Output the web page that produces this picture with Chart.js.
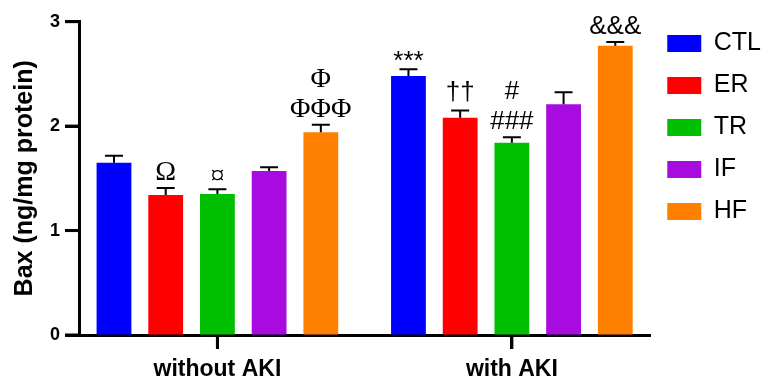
<!DOCTYPE html>
<html>
<head>
<meta charset="utf-8">
<script src="https://cdn.jsdelivr.net/npm/chart.js@4/dist/chart.umd.min.js"></script>
<style>
html,body{margin:0;padding:0;background:#fff;}
canvas{display:block;}
</style>
</head>
<body>
<canvas id="c" width="771" height="378"></canvas>
<script>
// ---- data ----
const categories = ['without AKI', 'with AKI'];
const groups = ['CTL', 'ER', 'TR', 'IF', 'HF'];
const ctlValues = [1.65, 2.48];
const erValues  = [1.34, 2.08];
const trValues  = [1.35, 1.84];
const ifValues  = [1.57, 2.21];
const hfValues  = [1.94, 2.77];
const ctlErr = [0.065, 0.064];
const erErr  = [0.067, 0.070];
const trErr  = [0.045, 0.054];
const ifErr  = [0.035, 0.115];
const hfErr  = [0.073, 0.035];
const ctlMarks = ['', '***'];
const erMarks  = ['Ω', '††'];
const trMarks  = ['¤', '#\n###'];
const ifMarks  = ['', ''];
const hfMarks  = ['Φ\nΦΦΦ', '&&&'];
const yTicks = [0, 1, 2, 3];

const colors = ['#0000FF', '#FF0000', '#00BE00', '#A80BE0', '#FF8000'];
const seriesValues = [ctlValues, erValues, trValues, ifValues, hfValues];
const seriesErr = [ctlErr, erErr, trErr, ifErr, hfErr];
const seriesMarks = [ctlMarks, erMarks, trMarks, ifMarks, hfMarks];

const datasets = groups.map((g, i) => ({
  label: g,
  data: seriesValues[i].map((v, j) => ({x: j, y: v})),
  err: seriesErr[i],
  marks: seriesMarks[i],
  backgroundColor: colors[i],
  borderWidth: 0,
  categoryPercentage: 0.878,
  barPercentage: 0.673
}));

const TICK_LEN = 14;

const errorBarsAndMarks = {
  id: 'errorBarsAndMarks',
  afterDatasetsDraw(chart) {
    const ctx = chart.ctx;
    const y = chart.scales.y;
    chart.data.datasets.forEach((ds, i) => {
      const meta = chart.getDatasetMeta(i);
      meta.data.forEach((bar, j) => {
        const v = ds.data[j].y;
        const top = y.getPixelForValue(v + ds.err[j]);
        ctx.save();
        ctx.strokeStyle = '#000';
        ctx.lineWidth = 2;
        ctx.beginPath();
        ctx.moveTo(bar.x, bar.y);
        ctx.lineTo(bar.x, top);
        ctx.moveTo(bar.x - 9, top);
        ctx.lineTo(bar.x + 9, top);
        ctx.stroke();
        const m = ds.marks[j];
        if (m) {
          const lines = m.split('\n');
          const serif = /[ΩΦ¤]/.test(m);
          ctx.font = serif ? '28px "Liberation Serif", "DejaVu Serif", serif' : '26px "Liberation Sans", Arial, sans-serif';
          ctx.fillStyle = '#000';
          ctx.textAlign = 'center';
          ctx.textBaseline = 'alphabetic';
          const last = lines[lines.length - 1];
          const desc = ctx.measureText(last).actualBoundingBoxDescent;
          const base = top - 8 - desc;
          for (let k = 0; k < lines.length; k++) {
            ctx.fillText(lines[k], bar.x, base - (lines.length - 1 - k) * 30);
          }
        }
        ctx.restore();
      });
    });
  },
  afterDraw(chart) {
    // axis tick marks at the positions given by the scales
    const ctx = chart.ctx;
    const x = chart.scales.x, y = chart.scales.y;
    const ca = chart.chartArea;
    ctx.save();
    ctx.fillStyle = '#000';
    y.ticks.forEach((t, i) => {
      const py = y.getPixelForTick(i);
      ctx.fillRect(ca.left - TICK_LEN, py - 1.5, TICK_LEN, 3);
    });
    x.ticks.forEach((t, i) => {
      const px = x.getPixelForTick(i);
      ctx.fillRect(px - 1.5, ca.bottom, 3, TICK_LEN);
    });
    ctx.restore();
  }
};

new Chart(document.getElementById('c'), {
  type: 'bar',
  data: { datasets },
  plugins: [errorBarsAndMarks],
  options: {
    responsive: false,
    animation: false,
    layout: { padding: { top: 14, right: 0, bottom: -12, left: 0 } },
    plugins: {
      tooltip: { enabled: false },
      legend: {
        position: 'right',
        align: 'start',
        labels: {
          boxWidth: 34,
          boxHeight: 17,
          padding: 17,
          color: '#000',
          font: { family: '"Liberation Sans", Arial, sans-serif', size: 25 }
        }
      }
    },
    scales: {
      x: {
        type: 'linear',
        min: -0.47,
        max: 1.47,
        offset: false,
        afterBuildTicks: (s) => { s.ticks = categories.map((c, i) => ({ value: i })); },
        ticks: {
          autoSkip: false,
          maxRotation: 0,
          padding: 9,
          color: '#000',
          font: { family: '"Liberation Sans", Arial, sans-serif', size: 23, weight: 'bold', lineHeight: 1.0 },
          callback: (v) => categories[v] ?? ''
        },
        grid: { offset: false, drawOnChartArea: false, drawTicks: true, tickLength: TICK_LEN, tickWidth: 3, tickColor: '#000' },
        border: { display: true, color: '#000', width: 3 }
      },
      y: {
        min: 0,
        max: 3,
        afterBuildTicks: (s) => { s.ticks = yTicks.map(v => ({ value: v })); },
        ticks: {
          padding: 5,
          color: '#000',
          font: { family: '"Liberation Sans", Arial, sans-serif', size: 18, weight: 'bold', lineHeight: 1.85 }
        },
        grid: { drawOnChartArea: false, drawTicks: true, tickLength: TICK_LEN, tickWidth: 3, tickColor: '#000' },
        border: { display: true, color: '#000', width: 3 },
        title: {
          display: true,
          text: 'Bax (ng/mg protein)',
          color: '#000',
          padding: { top: 10, bottom: 5 },
          font: { family: '"Liberation Sans", Arial, sans-serif', size: 25, weight: 'bold' }
        }
      }
    }
  }
});
</script>
</body>
</html>
